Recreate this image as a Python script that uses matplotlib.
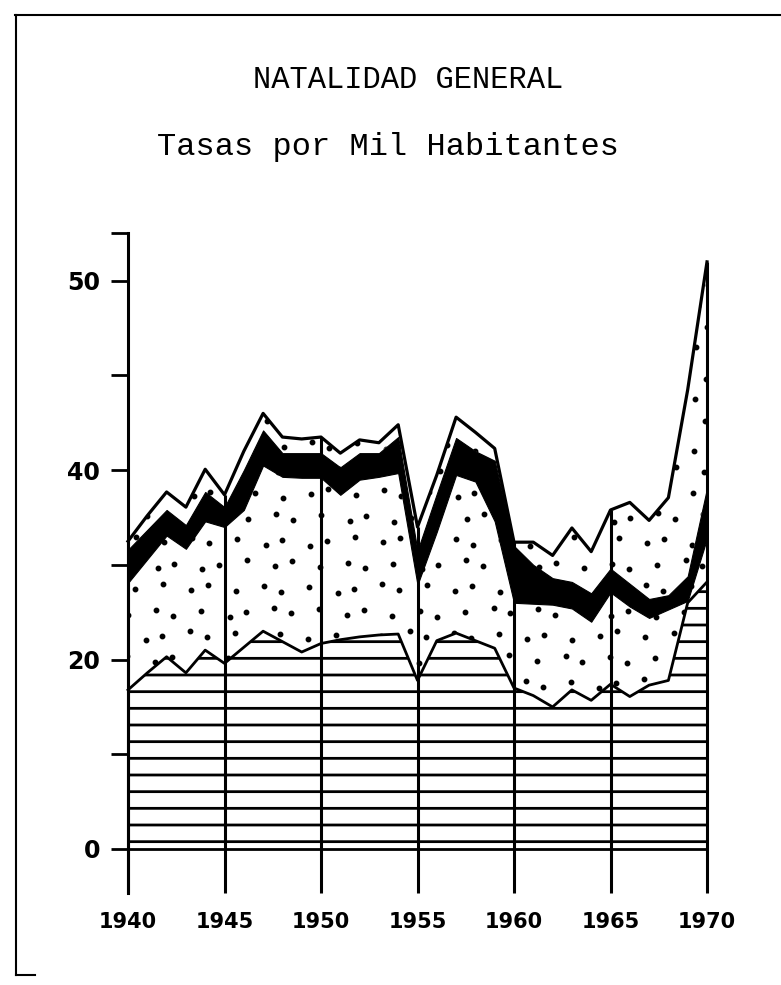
import matplotlib
matplotlib.use("Agg")
import numpy as np
import matplotlib.pyplot as plt
from matplotlib.lines import Line2D

years = list(range(1940, 1971))

# limite superior de la zona rayada
rayado = [16.8, 18.6, 20.3, 18.6, 21.0, 19.6, 21.3, 23.0, 21.9, 20.8,
          21.7, 22.1, 22.4, 22.6, 22.7, 17.8, 22.0, 22.8, 22.0, 21.2,
          17.0, 16.2, 15.0, 16.8, 15.7, 17.4, 16.1, 17.3, 17.8, 26.0, 28.2]
# limite superior de la zona punteada (base de la banda negra)
punteado = [28.1, 30.6, 33.1, 31.7, 34.6, 34.0, 35.8, 40.5, 39.3, 39.2,
            39.2, 37.4, 39.0, 39.3, 39.7, 27.9, 33.5, 39.5, 38.8, 34.6,
            26.0, 25.9, 25.8, 25.4, 24.0, 27.1, 25.6, 24.4, 25.3, 26.2, 32.8]
# limite superior de la banda negra
negro = [31.6, 33.7, 35.8, 34.2, 37.7, 36.1, 40.0, 44.2, 41.8, 41.8,
         41.8, 40.3, 41.8, 41.8, 43.5, 31.5, 37.5, 43.4, 42.0, 41.0,
         32.0, 30.0, 28.6, 28.2, 27.0, 29.6, 28.0, 26.4, 26.8, 28.8, 38.1]
# linea superior (total)
total = [32.5, 35.2, 37.7, 36.1, 40.1, 37.4, 42.0, 46.0, 43.5, 43.3,
         43.5, 41.8, 43.2, 42.9, 44.8, 34.0, 39.5, 45.6, 44.0, 42.3,
         32.4, 32.4, 31.0, 33.9, 31.4, 35.8, 36.6, 34.7, 37.1, 48.5, 62.0]

year_ticks = [1940, 1945, 1950, 1955, 1960, 1965, 1970]
year_labels = ["1940", "1945", "1950", "1955", "1960", "1965", "1970"]
y_ticks = [0, 10, 20, 30, 40, 50, 60, 65]
y_labels = ["0", "", "20", "", "40", "", "50", ""]

plt.rcParams['hatch.linewidth'] = 2.0

W, H = 781, 985
fig = plt.figure(figsize=(W / 100, H / 100), dpi=100)

# ejes en pixeles: 1940 -> x=128, 1970 -> x=707, y=0 -> 849, 1 unidad = 9.47 px
ymin, ymax = -4.6, 65
px = 9.47
bottom = H - (849 + (-ymin) * px)
top = H - (849 - ymax * px)
ax = fig.add_axes([128 / W, bottom / H, (707 - 128) / W, (top - bottom) / H])
ax.set_xlim(1940, 1970)
ax.set_ylim(ymin, ymax)

ax.fill_between(years, 0, rayado, facecolor='white', edgecolor='black',
                hatch='-', linewidth=0, clip_on=False, zorder=1)
zona1 = ax.fill_between(years, rayado, punteado, facecolor='white',
                        linewidth=0, clip_on=False, zorder=1)
zona2 = ax.fill_between(years, negro, total, facecolor='white',
                        linewidth=0, clip_on=False, zorder=1)

# punteado: trama de puntos algo desordenada, recortada a cada zona
px_x = (1970 - 1940) / (707 - 128)
gx, gy = [], []
for j, yv in enumerate(np.arange(0, 64, 2.5)):
    for i, xv in enumerate(np.arange(1940, 1971, 24 * px_x)):
        dx = ((i * 37 + j * 17) % 11 - 5) * 1.1 * px_x
        dy = ((i * 13 + j * 29) % 9 - 4) * 0.12
        gx.append(xv + dx + (12 * px_x if j % 2 else 0))
        gy.append(yv + dy)
for zona in (zona1, zona2):
    pts, = ax.plot(gx, gy, 'o', ms=3.2, color='black', zorder=1.5)
    pts.set_clip_path(zona.get_paths()[0], ax.transData)

# lineas verticales cada 5 anios
tops = [total[years.index(y)] for y in year_ticks]
ax.vlines(year_ticks, ymin, tops, color='black', linewidth=2.2,
          clip_on=False, zorder=2)

ax.fill_between(years, punteado, negro, color='black', linewidth=0.8,
                clip_on=False, zorder=3)
ax.plot(years, rayado, color='black', linewidth=2.0, clip_on=False, zorder=4)
ax.plot(years, total, color='black', linewidth=2.3, clip_on=False, zorder=4)
ax.plot([1940, 1970], [0, 0], color='black', linewidth=2.0,
        clip_on=False, zorder=4)

for s in ['top', 'right', 'bottom']:
    ax.spines[s].set_visible(False)
ax.spines['left'].set_linewidth(2.2)
ax.spines['left'].set_zorder(5)

ax.set_yticks(y_ticks)
ax.set_yticklabels(y_labels, fontsize=17, fontweight='bold')
ax.tick_params(axis='y', direction='out', length=12, width=2, pad=8)
ax.set_xticks(year_ticks)
ax.set_xticklabels(year_labels, fontsize=15, fontweight='bold')
ax.tick_params(axis='x', length=0, pad=14)

fig.text(408 / W, 1 - 80 / H, "NATALIDAD GENERAL", family='Liberation Mono',
         fontsize=22, ha='center', va='center')
fig.text(388 / W, 1 - 147 / H, "Tasas por Mil Habitantes",
         family='Liberation Mono', fontsize=23, ha='center', va='center')

# marco del documento
fig.add_artist(Line2D([15 / W, 1.0], [1 - 15 / H, 1 - 15 / H],
                      transform=fig.transFigure, color='black', linewidth=1.5))
fig.add_artist(Line2D([16 / W, 16 / W], [1 - 15 / H, 1 - 975 / H],
                      transform=fig.transFigure, color='black', linewidth=1.5))
fig.add_artist(Line2D([16 / W, 35 / W], [1 - 975 / H, 1 - 975 / H],
                      transform=fig.transFigure, color='black', linewidth=1.5))

fig.savefig("out.png", dpi=100, facecolor='white')
